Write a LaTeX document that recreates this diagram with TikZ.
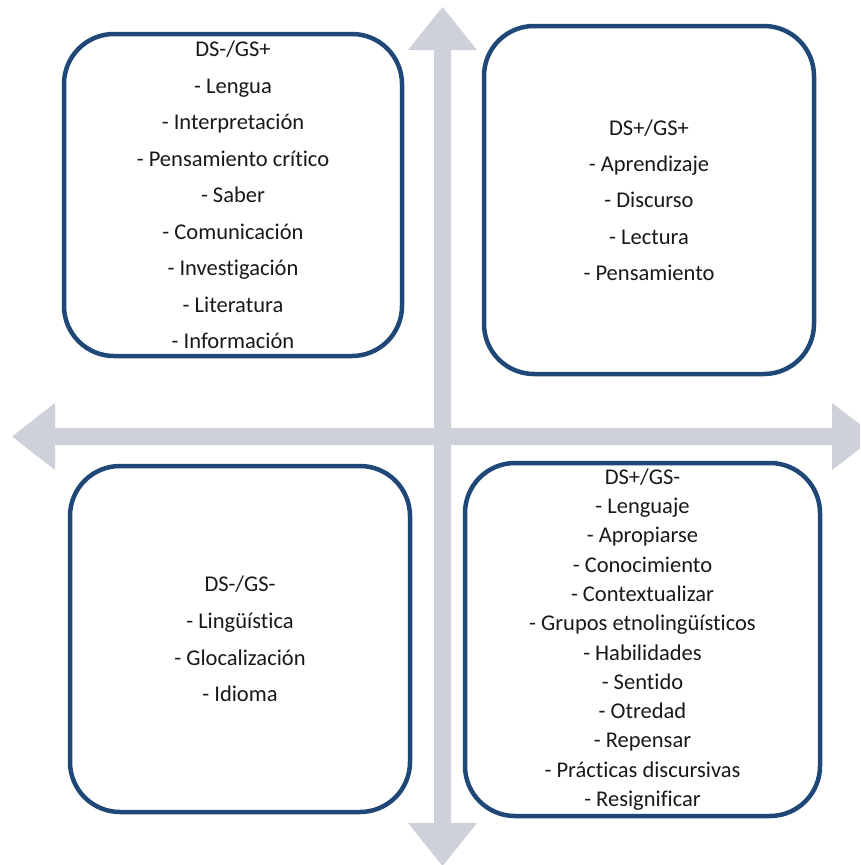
\documentclass[tikz,border=0pt]{standalone}
\usepackage{fontspec}
\setmainfont{Carlito}[Ligatures=NoCommon]
\definecolor{boxblue}{RGB}{31,71,120}
\definecolor{axisgray}{RGB}{206,209,218}
\definecolor{textdark}{RGB}{25,25,25}
\tikzset{
  qbox/.style={draw=boxblue, line width=4.5pt, rounded corners=50pt, fill=white,
    align=center, inner sep=0pt, text=textdark},
  axisshape/.style={fill=axisgray, draw=none},
}
\begin{document}
\begin{tikzpicture}[x=1pt,y=-1pt]
\useasboundingbox (0,0) rectangle (860,865);
\begin{scope}
\clip (0,0) rectangle (860,865);
% vertical double arrow
\fill[axisshape] (442.5,7) -- (477,50) -- (451,50) -- (451,823) -- (477,823) -- (442.5,866)
  -- (408,823) -- (434,823) -- (434,50) -- (408,50) -- cycle;
% horizontal double arrow
\fill[axisshape] (12,436.5) -- (55,403) -- (55,428) -- (832,428) -- (832,403) -- (876,436.5)
  -- (832,470) -- (832,445) -- (55,445) -- (55,470) -- cycle;
\end{scope}

\node[qbox, minimum width=338pt, minimum height=322pt,
  font=\fontsize{22.5}{36.5}\selectfont] (tl) at (233,195)
  {DS-/GS+\\- Lengua\\- Interpretación\\- Pensamiento crítico\\- Saber\\- Comunicación\\- Investigación\\- Literatura\\- Información};

\node[qbox, minimum width=330pt, minimum height=348pt,
  font=\fontsize{22.5}{36.3}\selectfont] (tr) at (649,200)
  {DS+/GS+\\- Aprendizaje\\- Discurso\\- Lectura\\- Pensamiento};

\node[qbox, minimum width=340pt, minimum height=346pt,
  font=\fontsize{22.5}{36.7}\selectfont] (bl) at (240,639)
  {DS-/GS-\\- Lingüística\\- Glocalización\\- Idioma};

\node[qbox, minimum width=355pt, minimum height=353pt,
  font=\fontsize{22.5}{29.3}\selectfont] (br) at (642.5,639.5)
  {DS+/GS-\\- Lenguaje\\- Apropiarse\\- Conocimiento\\- Contextualizar\\- Grupos etnolingüísticos\\- Habilidades\\- Sentido\\- Otredad\\- Repensar\\- Prácticas discursivas\\- Resignificar};
\end{tikzpicture}
\end{document}
